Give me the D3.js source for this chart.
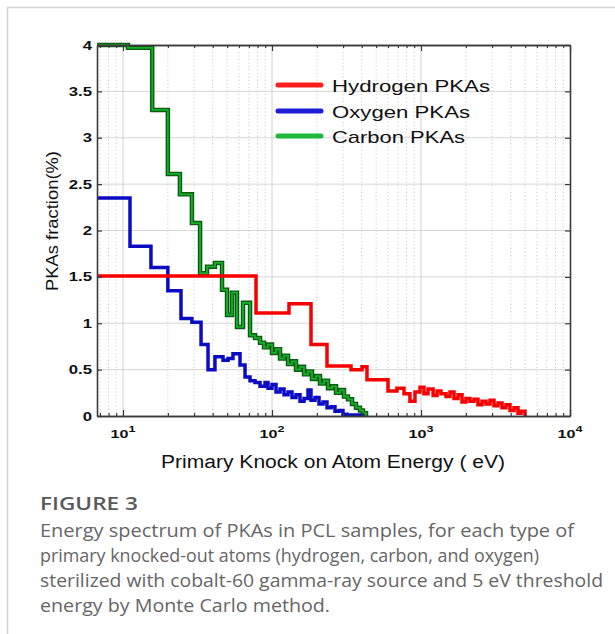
<!DOCTYPE html>
<html><head><meta charset="utf-8">
<script src="https://cdn.jsdelivr.net/npm/d3@7"></script>
<style>
html,body{margin:0;padding:0;background:#fff;}
svg{display:block;}
</style></head>
<body>
<svg id="chart" width="615" height="634"></svg>
<script>
// ---------- data ----------
const seriesNames = ["Hydrogen PKAs", "Oxygen PKAs", "Carbon PKAs"];
const hydrogenE = [6.69, 78.1, 130, 182.7, 233.9, 339, 401.8, 434, 600.5, 690, 769, 843, 911, 985, 1047, 1114, 1206, 1281, 1362, 1472, 1565, 1665, 1772, 1885, 2005, 2132, 2268, 2413, 2567, 2731, 2905, 3090, 3288, 3497, 3720, 3957, 4209, 4477, 4690, 4989];
const hydrogenV = [1.51, 1.11, 1.21, 0.77, 0.54, 0.50, 0.53, 0.39, 0.27, 0.30, 0.24, 0.16, 0.26, 0.31, 0.24, 0.29, 0.22, 0.27, 0.24, 0.21, 0.26, 0.19, 0.23, 0.15, 0.19, 0.16, 0.18, 0.12, 0.16, 0.13, 0.17, 0.11, 0.14, 0.09, 0.12, 0.06, 0.09, 0.03, 0.05, 0];
const oxygenE = [6.69, 11.14, 15.4, 20.0, 24.5, 29.0, 33.4, 37.2, 41.4, 46.9, 50.7, 54.7, 61.0, 65.9, 71.2, 76.9, 83.1, 89.8, 94.0, 100, 106.4, 113.2, 120.4, 128.1, 136.2, 144.9, 154.2, 164.0, 174.4, 182.7, 194.3, 206.8, 220.0, 233.9, 248.9, 264.7, 281.6, 299.5, 318.7, 401.8];
const oxygenV = [2.35, 1.83, 1.60, 1.35, 1.05, 1.01, 0.77, 0.50, 0.64, 0.60, 0.62, 0.67, 0.55, 0.42, 0.38, 0.36, 0.32, 0.36, 0.30, 0.34, 0.26, 0.29, 0.23, 0.26, 0.20, 0.23, 0.16, 0.19, 0.28, 0.17, 0.20, 0.13, 0.15, 0.09, 0.10, 0.05, 0.06, 0.02, 0.01, 0.0];
const carbonE = [6.69, 10.8, 15.7, 20.0, 24.1, 29.0, 32.9, 36.6, 41.4, 46.2, 49.9, 53.9, 58.2, 63.9, 71.2, 76.9, 83.1, 88.4, 94.0, 100, 106.4, 113.2, 120.4, 128.1, 136.2, 144.9, 154.2, 164.0, 174.4, 185.5, 197.4, 209.9, 223.4, 237.6, 252.7, 268.9, 285.9, 304.2, 323.6, 344.3, 366.3, 389.4, 408.1, 427.5];
const carbonV = [4.0, 3.97, 3.30, 2.61, 2.39, 2.08, 1.54, 1.61, 1.65, 1.36, 1.09, 1.33, 0.96, 1.22, 0.87, 0.84, 0.79, 0.74, 0.77, 0.68, 0.72, 0.62, 0.65, 0.56, 0.59, 0.50, 0.53, 0.45, 0.48, 0.40, 0.43, 0.35, 0.38, 0.30, 0.32, 0.25, 0.28, 0.21, 0.18, 0.13, 0.09, 0.06, 0.03, 0.0];

const xMajorTicks = [10, 100, 1000, 10000];
const xTickExponents = ["1", "2", "3", "4"];
const xMinorTicks = [7, 8, 9, 20, 30, 40, 50, 60, 70, 80, 90, 200, 300, 400, 500, 600, 700, 800, 900, 2000, 3000, 4000, 5000, 6000, 7000, 8000, 9000];
const yTicks = [0, 0.5, 1, 1.5, 2, 2.5, 3, 3.5, 4];
const yTickLabels = ["0", "0.5", "1", "1.5", "2", "2.5", "3", "3.5", "4"];
const xTitle = "Primary Knock on Atom Energy ( eV)";
const yTitle = "PKAs fraction(%)";
const figLabel = "FIGURE 3";
const captionLines = [
  "Energy spectrum of PKAs in PCL samples, for each type of",
  "primary knocked-out atoms (hydrogen, carbon, and oxygen)",
  "sterilized with cobalt-60 gamma-ray source and 5 eV threshold",
  "energy by Monte Carlo method."
];
const captionWidths = [534, 499, 563, 290];

// ---------- layout ----------
const svg = d3.select("#chart");
const L = 97, R = 570, T = 45, B = 416;
const x = d3.scaleLog().domain([6.69, 10000]).range([L, R]);
const y = d3.scaleLinear().domain([0, 4]).range([B, T]);

// card border
svg.append("line").attr("x1", 7).attr("x2", 615).attr("y1", 7.5).attr("y2", 7.5).attr("stroke", "#d4d4d4").attr("stroke-width", 1.5);
svg.append("line").attr("x1", 7.5).attr("x2", 7.5).attr("y1", 7).attr("y2", 634).attr("stroke", "#d4d4d4").attr("stroke-width", 1.5);

// grid
const grid = svg.append("g");
grid.selectAll(".hg").data(yTicks.slice(1, -1)).join("line")
  .attr("x1", L).attr("x2", R).attr("y1", d => y(d)).attr("y2", d => y(d))
  .attr("stroke", "#d6d6d6").attr("stroke-width", 1);
grid.selectAll(".vmin").data(xMinorTicks).join("line")
  .attr("x1", d => x(d)).attr("x2", d => x(d)).attr("y1", T).attr("y2", B)
  .attr("stroke", "#c8c8c8").attr("stroke-width", 1).attr("stroke-dasharray", "1,2.5");
grid.selectAll(".vmaj").data(xMajorTicks.slice(0, -1)).join("line")
  .attr("x1", d => x(d)).attr("x2", d => x(d)).attr("y1", T).attr("y2", B)
  .attr("stroke", "#d0d0d0").attr("stroke-width", 1);

// series
const line = d3.line().x(d => x(d[0])).y(d => y(d[1])).curve(d3.curveStepAfter);
const zipS = (E, V) => E.map((e, i) => [e, V[i]]);
const plot = svg.append("g");
plot.append("path").datum(zipS(carbonE, carbonV)).attr("d", line)
  .attr("fill", "none").attr("stroke", "#0d5a12").attr("stroke-width", 4.5).attr("stroke-linejoin", "miter");
plot.append("path").datum(zipS(carbonE, carbonV)).attr("d", line)
  .attr("fill", "none").attr("stroke", "#12b026").attr("stroke-width", 1.8).attr("stroke-linejoin", "miter");
plot.append("path").datum(zipS(oxygenE, oxygenV)).attr("d", line)
  .attr("fill", "none").attr("stroke", "#0b0bc4").attr("stroke-width", 3.5).attr("stroke-linejoin", "miter");
plot.append("path").datum(zipS(hydrogenE, hydrogenV)).attr("d", line)
  .attr("fill", "none").attr("stroke", "#f80000").attr("stroke-width", 3.5).attr("stroke-linejoin", "miter");

// axes (ticks inside)
const axCol = "#3a3a3a";
function styleAxis(g) {
  g.select(".domain").attr("stroke", axCol).attr("stroke-width", 1.6);
  g.selectAll(".tick line").attr("stroke", axCol).attr("stroke-width", 1.2);
  g.selectAll(".tick text").remove();
}
svg.append("g").attr("transform", `translate(0,${B})`)
  .call(d3.axisBottom(x).tickValues(xMinorTicks).tickSize(-3).tickSizeOuter(0).tickFormat("")).call(styleAxis);
svg.append("g").attr("transform", `translate(0,${B})`)
  .call(d3.axisBottom(x).tickValues(xMajorTicks).tickSize(-6).tickSizeOuter(0).tickFormat("")).call(styleAxis);
svg.append("g").attr("transform", `translate(0,${T})`)
  .call(d3.axisTop(x).tickValues(xMinorTicks).tickSize(-3).tickSizeOuter(0).tickFormat("")).call(styleAxis);
svg.append("g").attr("transform", `translate(0,${T})`)
  .call(d3.axisTop(x).tickValues(xMajorTicks).tickSize(-6).tickSizeOuter(0).tickFormat("")).call(styleAxis);
svg.append("g").attr("transform", `translate(${L},0)`)
  .call(d3.axisLeft(y).tickValues(yTicks).tickSize(-5).tickSizeOuter(0).tickFormat("")).call(styleAxis);
svg.append("g").attr("transform", `translate(${R},0)`)
  .call(d3.axisRight(y).tickValues(yTicks).tickSize(-5).tickSizeOuter(0).tickFormat("")).call(styleAxis);

// tick labels
const font = "Arial, 'Liberation Sans', sans-serif";
svg.append("g").selectAll("text").data(yTicks).join("text")
  .attr("transform", d => `translate(92,${y(d) + 4.5}) scale(1.4,1)`)
  .attr("text-anchor", "end").attr("font-family", font).attr("font-size", 12).attr("font-weight", "bold")
  .attr("fill", "#111").text((d, i) => yTickLabels[i]);
const xl = svg.append("g").selectAll("text").data(xMajorTicks).join("text")
  .attr("transform", d => `translate(${x(d)},438) scale(1.4,1)`)
  .attr("text-anchor", "middle").attr("font-family", font).attr("font-size", 11.5).attr("font-weight", "bold")
  .attr("fill", "#111");
xl.append("tspan").text("10");
xl.append("tspan").attr("dy", -6).attr("font-size", 9).text((d, i) => xTickExponents[i]);

// axis titles
svg.append("text").attr("x", 333).attr("y", 468).attr("text-anchor", "middle")
  .attr("font-family", font).attr("font-size", 18).attr("fill", "#111")
  .attr("textLength", 344).attr("lengthAdjust", "spacingAndGlyphs").text(xTitle);
svg.append("text").attr("transform", "translate(58,221) rotate(-90)").attr("text-anchor", "middle")
  .attr("font-family", font).attr("font-size", 17).attr("fill", "#111")
  .attr("textLength", 140).attr("lengthAdjust", "spacingAndGlyphs").text(yTitle);

// legend
const legColors = ["#ff1e1e", "#1e1ed8", "#20b83a"];
const legY = [85, 111, 136];
const legW = [158, 138, 133];
const leg = svg.append("g");
leg.selectAll("line").data(seriesNames).join("line")
  .attr("x1", 278).attr("x2", 321).attr("y1", (d, i) => legY[i]).attr("y2", (d, i) => legY[i])
  .attr("stroke", (d, i) => legColors[i]).attr("stroke-width", 5).attr("stroke-linecap", "round");
leg.selectAll("text").data(seriesNames).join("text")
  .attr("x", 332).attr("y", (d, i) => legY[i] + 6.5)
  .attr("font-family", font).attr("font-size", 17).attr("fill", "#111")
  .attr("textLength", (d, i) => legW[i]).attr("lengthAdjust", "spacingAndGlyphs").text(d => d);

// caption
const capFont = "'Open Sans', Lato, sans-serif";
svg.append("text").attr("x", 40).attr("y", 510).attr("font-family", capFont).attr("font-size", 18)
  .attr("font-weight", 600).attr("fill", "#5a5a5a")
  .attr("textLength", 98).attr("lengthAdjust", "spacingAndGlyphs").text(figLabel);
svg.append("g").selectAll("text").data(captionLines).join("text")
  .attr("x", 40).attr("y", (d, i) => 537 + i * 25)
  .attr("font-family", capFont).attr("font-size", 18).attr("fill", "#666")
  .attr("textLength", (d, i) => captionWidths[i]).attr("lengthAdjust", "spacingAndGlyphs").text(d => d);
</script>
</body></html>
